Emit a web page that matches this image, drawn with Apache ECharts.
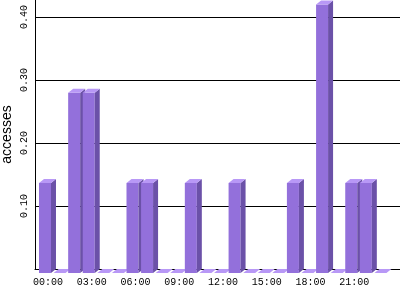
<!DOCTYPE html>
<html>
<head>
<meta charset="utf-8">
<script src="https://cdn.jsdelivr.net/npm/echarts@6/dist/echarts.min.js"></script>
<style>html,body{margin:0;padding:0;background:#fff;}#c{width:400px;height:300px;}</style>
</head>
<body>
<div id="c"></div>
<script>
const hours = ['00:00','01:00','02:00','03:00','04:00','05:00','06:00','07:00','08:00','09:00','10:00','11:00',
               '12:00','13:00','14:00','15:00','16:00','17:00','18:00','19:00','20:00','21:00','22:00','23:00'];
const accesses = [0.143,0,0.286,0.286,0,0,0.143,0.143,0,0,0.143,0,
                  0,0.143,0,0,0,0.143,0,0.426,0,0.143,0.143,0];
const yTicks = [0.1,0.2,0.3,0.4];

const FRONT = '#9370DB', SIDE = '#6B51A8', TOP = '#B898F6';
const DX = 5, DY = 4, LEFT = 9, RIGHT = 3;

const chart = echarts.init(document.getElementById('c'), null, {renderer:'canvas'});
chart.setOption({
  animation: false,
  backgroundColor: '#fff',
  grid: [
    {left: 35, right: 0, top: 17, bottom: 31, containLabel: false, outerBoundsMode: 'none'},
    {left: 40.7, right: 9.3, top: 0, bottom: 31, containLabel: false, outerBoundsMode: 'none'}
  ],
  xAxis: [
    {gridIndex: 0, type: 'value', min: 0, max: 1,
     axisLine: {show: true, onZero: false, lineStyle: {color: '#000', width: 1}},
     axisTick: {show: false}, axisLabel: {show: false}, splitLine: {show: false}},
    {gridIndex: 1, type: 'category', data: hours, boundaryGap: true,
     axisLine: {show: false}, axisTick: {show: false}, splitLine: {show: false},
     axisLabel: {interval: 2, margin: 8, color: '#000', fontFamily: 'Liberation Mono', fontSize: 10}}
  ],
  yAxis: [
    {gridIndex: 0, type: 'value', min: 0, max: yTicks[yTicks.length-1], interval: 0.1,
     axisLine: {show: false}, axisTick: {show: false},
     splitLine: {show: true, lineStyle: {color: '#000', width: 1}},
     axisLabel: {rotate: 90, margin: 6, color: '#000', fontFamily: 'Liberation Mono', fontSize: 10,
       formatter: v => (yTicks.some(t => Math.abs(t - v) < 1e-9) ? v.toFixed(2) : '')}},
    {gridIndex: 1, type: 'value', min: 0, max: yTicks[yTicks.length-1] * 269 / 252, offset: 5.7,
     name: 'accesses', nameLocation: 'middle', nameGap: 21, nameRotate: 90,
     nameTextStyle: {color: '#000', fontFamily: 'Liberation Sans', fontSize: 14},
     axisLine: {show: true, lineStyle: {color: '#000', width: 1}},
     axisTick: {show: false}, axisLabel: {show: false}, splitLine: {show: false}}
  ],
  series: [{
    type: 'custom', xAxisIndex: 1, yAxisIndex: 1, clip: false, z: 5,
    data: accesses.map((v, i) => [i, v]),
    renderItem: function (params, api) {
      const top = api.coord([api.value(0), api.value(1)]);
      const base = api.coord([api.value(0), 0]);
      const cx = top[0];
      const x0 = cx - LEFT, x1 = cx + RIGHT;
      const yt = top[1], yb = base[1];
      const children = [];
      if (yb - yt > 0.01) {
        children.push({type: 'rect', shape: {x: x0, y: yt + DY, width: x1 - x0, height: yb - yt},
          style: {fill: FRONT}});
        children.push({type: 'polygon', shape: {points: [[x1, yt + DY], [x1 + DX, yt], [x1 + DX, yb], [x1, yb + DY]]},
          style: {fill: SIDE}});
      }
      children.push({type: 'polygon', shape: {points: [[x0, yt + DY], [x0 + DX, yt], [x1 + DX, yt], [x1, yt + DY]]},
        style: {fill: TOP}});
      return {type: 'group', children: children};
    }
  }]
});
</script>
</body>
</html>
